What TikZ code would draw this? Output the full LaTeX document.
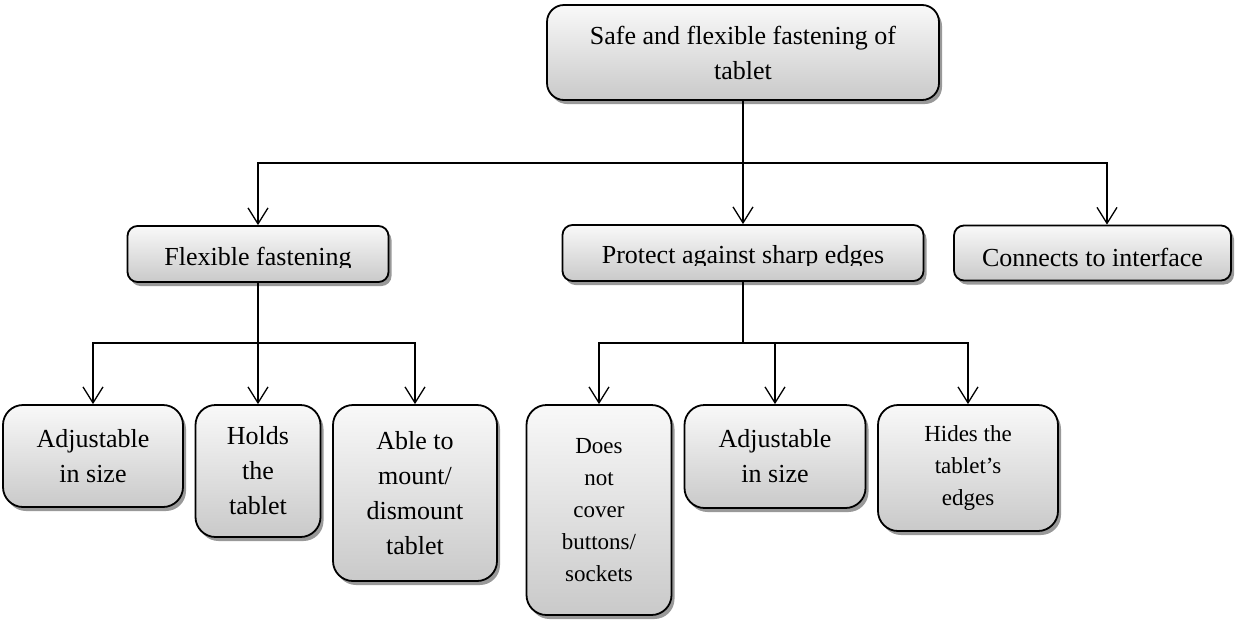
\documentclass[tikz,border=0pt]{standalone}
\usepackage{fontspec}
\setmainfont{Liberation Serif}
\usetikzlibrary{arrows.meta,shadows}
\begin{document}
\begin{tikzpicture}[x=1pt,y=-1pt,
  box/.style={draw=black, line width=1.8pt, top color=gray!5, bottom color=gray!42,
    drop shadow={shadow xshift=3pt, shadow yshift=-4pt, fill=black, opacity=0.4},
    inner sep=0pt, align=center, font=\fontsize{26}{35}\selectfont},
  headbox/.style={box, rounded corners=17pt},
  midbox/.style={box, rounded corners=10pt},
  leafbox/.style={box, rounded corners=20pt},
  smalltext/.style={font=\fontsize{23}{32}\selectfont},
  cliptext/.style={inner sep=0pt, anchor=base, font=\fontsize{26}{35}\selectfont},
  arr/.style={line width=1.3pt, -{Straight Barb[length=16pt,width=20pt]}}
]
\useasboundingbox (0,0) rectangle (1236,619);

% root
\node[headbox, minimum width=392pt, minimum height=95pt] (top) at (743,52.5)
  {Safe and flexible fastening of\\tablet};

% second level
\node[midbox, minimum width=261pt, minimum height=56pt] (flex) at (258,254) {};
\node[midbox, minimum width=361pt, minimum height=56pt] (prot) at (743,253) {};
\node[midbox, minimum width=277pt, minimum height=55pt, text height=27pt, text depth=0pt]
  (conn) at (1092.5,253) {Connects to interface};

% labels of the second level, cut off at the lower edge of the text line
\begin{scope}
  \clip (127,226) rectangle (389,267.5);
  \node[cliptext] (flexlabel) at (258,265) {Flexible fastening};
\end{scope}
\begin{scope}
  \clip (562,225) rectangle (924,265.5);
  \node[cliptext] (protlabel) at (743,263) {Protect against sharp edges};
\end{scope}

% third level
\node[leafbox, minimum width=180pt, minimum height=102pt] (adj1) at (93,456) {Adjustable\\in size};
\node[leafbox, minimum width=125pt, minimum height=132pt] (holds) at (258,471) {Holds\\the\\tablet};
\node[leafbox, minimum width=164pt, minimum height=176pt] (able) at (415,493) {Able to\\mount/\\dismount\\tablet};
\node[leafbox, smalltext, minimum width=145pt, minimum height=210pt] (does) at (599,510) {Does\\not\\cover\\buttons/\\sockets};
\node[leafbox, minimum width=181pt, minimum height=103pt] (adj2) at (775,456.5) {Adjustable\\in size};
\node[leafbox, smalltext, minimum width=180pt, minimum height=126pt] (hides) at (968,468) {Hides the\\tablet’s\\edges};

% branching points
\coordinate (busA) at (743,163);
\coordinate (busB) at (258,343);
\coordinate (busC) at (743,343);

% connectors
\draw[arr] (top.south) -- (busA) -| (flex.north);
\draw[arr] (top.south) -- (prot.north);
\draw[arr] (top.south) -- (busA) -| ([xshift=14.5pt]conn.north);

\draw[arr] (flex.south) -- (busB) -| (adj1.north);
\draw[arr] (flex.south) -- (holds.north);
\draw[arr] (flex.south) -- (busB) -| (able.north);

\draw[arr] (prot.south) -- (busC) -| (does.north);
\draw[arr] (prot.south) -- (busC) -| (adj2.north);
\draw[arr] (prot.south) -- (busC) -| (hides.north);
\end{tikzpicture}
\end{document}
